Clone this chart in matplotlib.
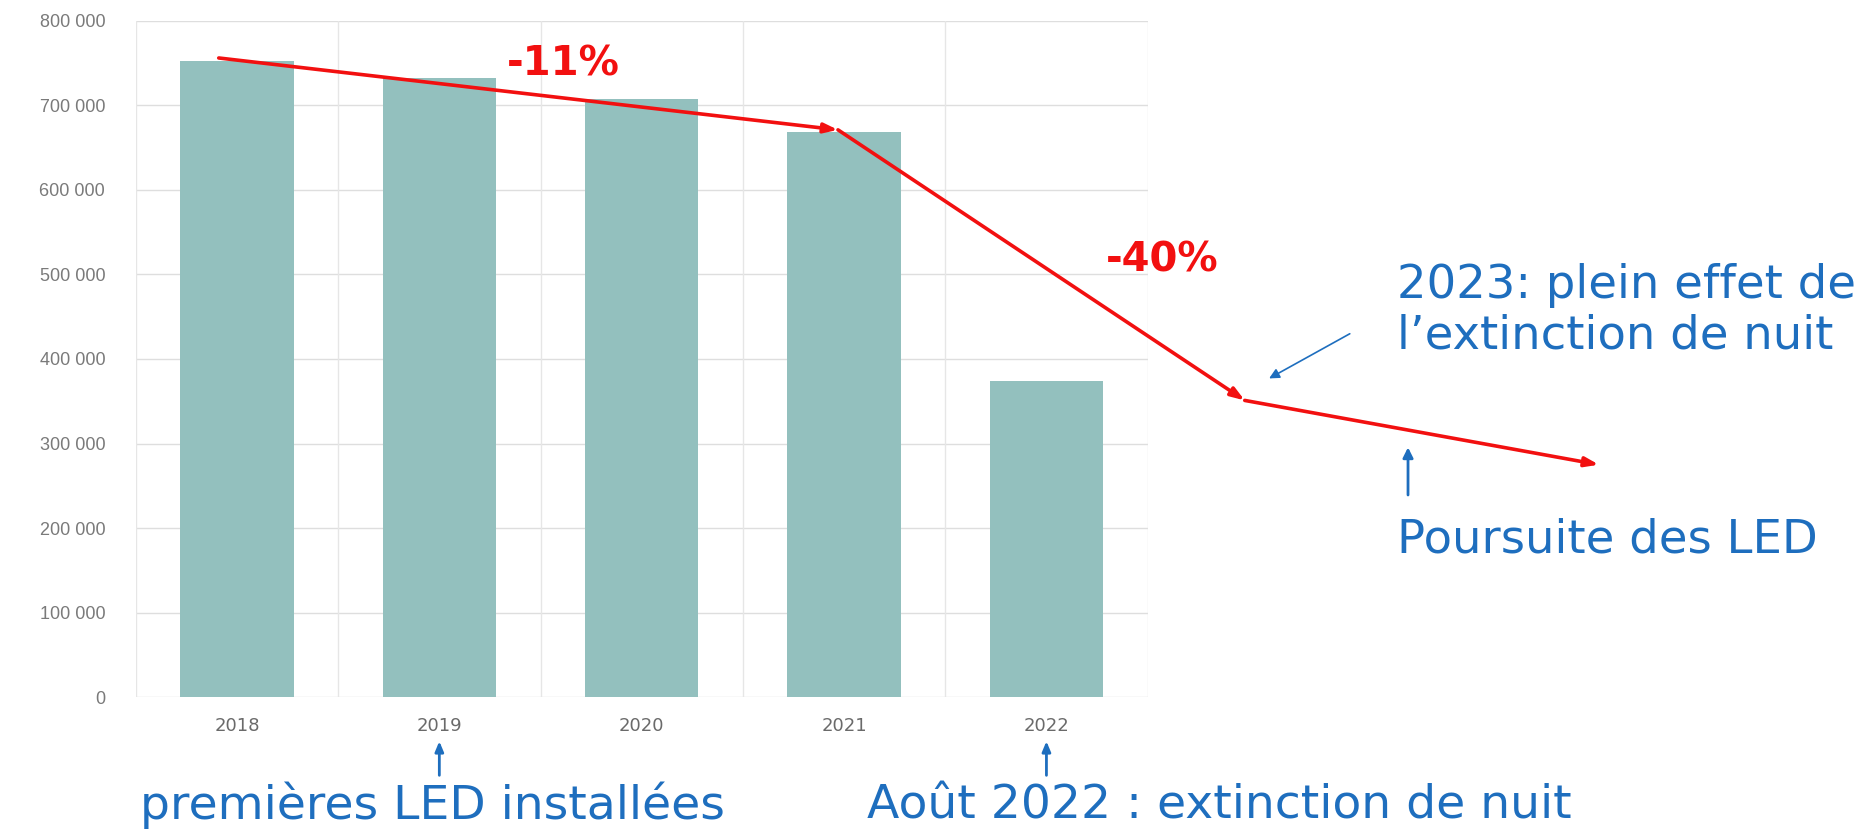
import matplotlib.pyplot as plt
from matplotlib.patches import FancyArrowPatch
from matplotlib.ticker import FixedLocator

plt.rcParams['font.family'] = ['Liberation Sans', 'DejaVu Sans']

# data
years = ["2018", "2019", "2020", "2021", "2022"]
consumption = [752000, 732000, 708000, 668000, 374000]
yticks = [0, 100000, 200000, 300000, 400000, 500000, 600000, 700000, 800000]
ytick_labels = ["0", "100 000", "200 000", "300 000", "400 000",
                "500 000", "600 000", "700 000", "800 000"]

# hand-drawn red trend (in bar index units, runs past the axes)
trend_x = [-0.09, 2.97, 4.98, 6.73]
trend_y = [756000, 671000, 351000, 275000]

bar_color = "#93C0BE"
red = "#F21010"
blue = "#1E6EBE"
wide = "DejaVu Sans"  # the photo is stretched sideways, a wide face fits better

fig = plt.figure(figsize=(18.6, 8.31), dpi=100)
ax = fig.add_axes([0.073, 0.161, 0.544, 0.814])

x = list(range(len(years)))
ax.bar(x, consumption, width=0.56, color=bar_color, zorder=2)

ax.set_xlim(-0.5, len(years) - 0.5)
ax.set_ylim(0, 800000)
ax.yaxis.set_major_locator(FixedLocator(yticks))
ax.set_yticklabels(ytick_labels)
ax.set_xticks(x)
ax.set_xticklabels(years)
ax.tick_params(axis='y', length=0, pad=22, labelsize=13, labelcolor="#7a7a7a")
ax.tick_params(axis='x', length=0, pad=14, labelsize=13, labelcolor="#6a6a6a")
for lab in ax.get_xticklabels():
    lab.set_family(wide)

for s in ax.spines.values():
    s.set_visible(False)
for yv in yticks:
    ax.axhline(yv, color="#dedede", lw=1, zorder=1)
for xv in [i - 0.5 for i in range(len(years) + 1)]:
    ax.axvline(xv, color="#e6e6e6", lw=1, zorder=1)

# red trend segments, each ending in an arrowhead
for i in range(len(trend_x) - 1):
    ax.annotate("", xy=(trend_x[i + 1], trend_y[i + 1]),
                xytext=(trend_x[i], trend_y[i]),
                xycoords='data', textcoords='data', annotation_clip=False,
                arrowprops=dict(arrowstyle='-|>,head_length=0.8,head_width=0.28',
                                color=red, lw=2.6, shrinkA=0, shrinkB=0),
                zorder=5)

fig.text(0.303, 0.922, "-11%", color=red, fontsize=29, fontweight='bold',
         family=wide, ha='center', va='center')
fig.text(0.625, 0.686, "-40%", color=red, fontsize=29, fontweight='bold',
         family=wide, ha='center', va='center')

# blue notes
fig.text(0.751, 0.657, "2023: plein effet de", color=blue, fontsize=33.5,
         family=wide, ha='left', va='center')
fig.text(0.751, 0.596, "l\u2019extinction de nuit", color=blue, fontsize=33.5,
         family=wide, ha='left', va='center')
fig.text(0.751, 0.350, "Poursuite des LED", color=blue, fontsize=33.5,
         family=wide, ha='left', va='center')
fig.text(0.075, 0.015, "premi\u00e8res LED install\u00e9es", color=blue,
         fontsize=34, family=wide, ha='left', va='baseline')
fig.text(0.466, 0.015, "Ao\u00fbt 2022 : extinction de nuit", color=blue,
         fontsize=34, family=wide, ha='left', va='baseline')

arrow_kw = dict(arrowstyle='-|>,head_length=0.6,head_width=0.25',
                color=blue, lw=2, shrinkA=0, shrinkB=0)
for idx in (1, 4):
    ax.annotate("", xy=(idx, 0.108), xytext=(idx, 0.067),
                xycoords=('data', 'figure fraction'),
                textcoords=('data', 'figure fraction'),
                annotation_clip=False, arrowprops=arrow_kw)
fig.add_artist(FancyArrowPatch(
    (0.757, 0.401), (0.757, 0.465), transform=fig.transFigure,
    arrowstyle='-|>,head_length=6,head_width=3', color=blue, lw=2))
fig.add_artist(FancyArrowPatch(
    (0.727, 0.600), (0.681, 0.543), transform=fig.transFigure,
    arrowstyle='-|>,head_length=6,head_width=3', color=blue, lw=1.2))

fig.savefig("out.png", dpi=100, facecolor="white")
